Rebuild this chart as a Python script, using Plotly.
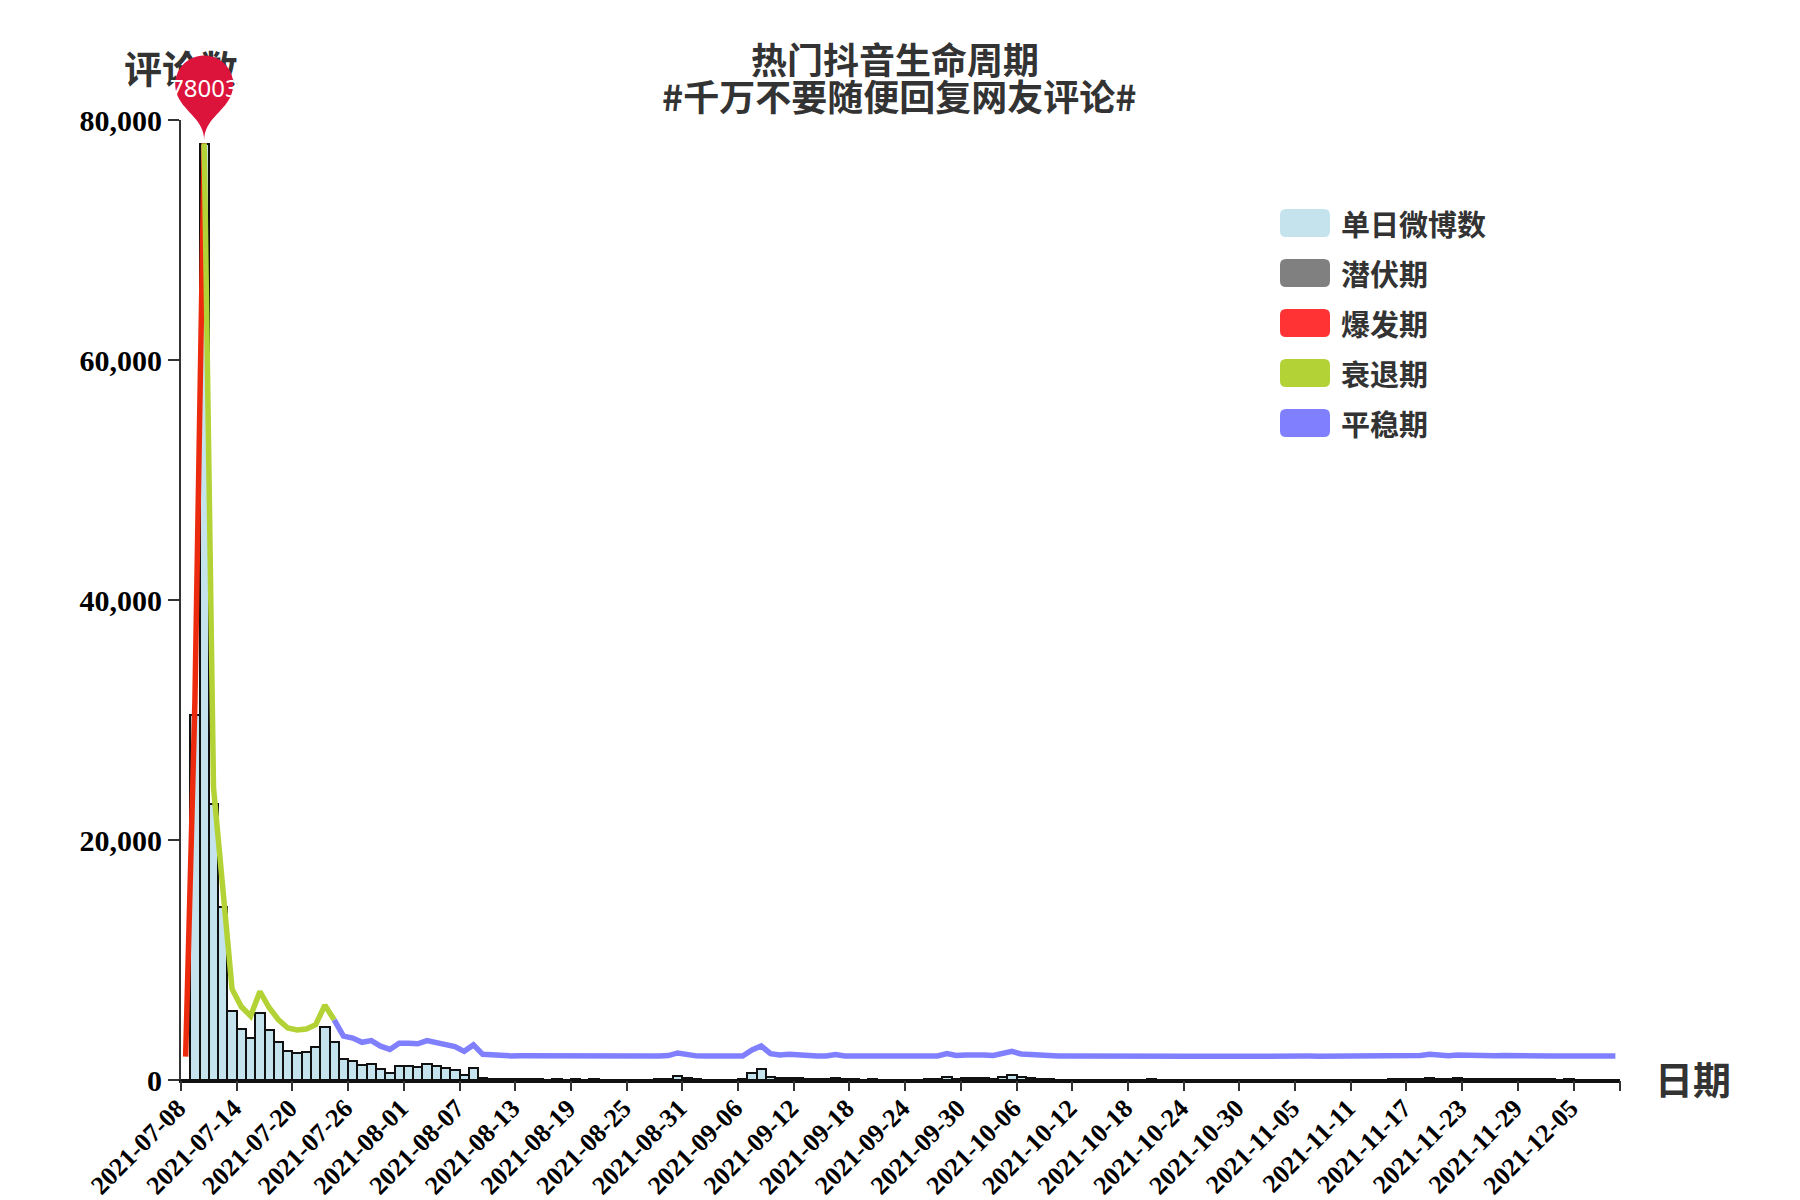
import math
import datetime as dt
import plotly.graph_objects as go

# ---------------- data ----------------
start_date = dt.date(2021, 7, 8)
n_days = 155
dates = [(start_date + dt.timedelta(days=i)).isoformat() for i in range(n_days)]

daily_counts = [
    0, 30400, 78003, 23000, 14400, 5780, 4250, 3470, 5560, 4170,          # 07-08 .. 07-17
    3140, 2440, 2280, 2360, 2720, 4390, 3140, 1750, 1580, 1220,           # 07-18 .. 07-27
    1360, 890, 610, 1140, 1140, 1090, 1360, 1170, 1040, 860,              # 07-28 .. 08-06
    450, 1000, 190, 110, 100, 60, 70, 60, 50, 40,                         # 08-07 .. 08-16
    50, 40, 60, 40, 50, 30, 40, 30, 40, 30,                               # 08-17 .. 08-26
    40, 60, 90, 310, 140, 60, 40, 30, 30, 40,                             # 08-27 .. 09-05
    50, 560, 900, 250, 140, 200, 140, 60, 50, 60,                         # 09-06 .. 09-15
    170, 60, 50, 40, 50, 40, 30, 40, 30, 40,                              # 09-16 .. 09-25
    50, 60, 250, 90, 140, 190, 140, 100, 250, 440,                        # 09-26 .. 10-05
    220, 170, 60, 50, 40, 40, 30, 40, 30, 40,                             # 10-06 .. 10-15
    30, 40, 30, 40, 50, 40, 30, 40, 30, 30,                               # 10-16 .. 10-25
    40, 30, 40, 30, 30, 40, 30, 30, 40, 30,                               # 10-26 .. 11-04
    30, 40, 30, 30, 40, 30, 40, 30, 40, 30,                               # 11-05 .. 11-14
    50, 60, 70, 90, 200, 90, 80, 130, 90, 70,                             # 11-15 .. 11-24
    60, 70, 90, 60, 50, 60, 70, 50, 40, 50,                               # 11-25 .. 12-04
    40, 40, 40, 40, 40,                                                   # 12-05 .. 12-09
]
assert len(daily_counts) == n_days

bar_name = "单日微博数"
phase_names = ["潜伏期", "爆发期", "衰退期", "平稳期"]
phase_start = ["2021-07-08", "2021-07-08", "2021-07-10", "2021-07-24"]
phase_end = ["2021-07-08", "2021-07-10", "2021-07-24", "2021-12-09"]

y_ticks = [0, 20000, 40000, 60000, 80000]
y_range = [0, 80000]
y2_range = [-2000, 80000]
tick_every = 6

title_lines = ["热门抖音生命周期", "#千万不要随便回复网友评论#"]
y_title = "评论数"
x_title = "日期"

# ---------------- style ----------------
bar_fill = "#c4e3ed"
legend_colors = ["#c4e3ed", "#808080", "#ff3333", "#b3d235", "#8080ff"]
line_colors = ["#808080", "#ec2b0e", "#b3d235", "#8080ff"]
cjk = "Noto Sans CJK SC"
serif = "Liberation Serif"
text_col = "#333333"

W, H = 1800, 1200
L, R, T, B = 181, 180, 120, 120
PW, PH = W - L - R, H - T - B


def px(x):
    return (x - L) / PW


def py(y):
    return (H - B - y) / PH


idx = {d: i for i, d in enumerate(dates)}
xc = [i + 0.5 for i in range(n_days)]
x_range = [0, n_days]

fig = go.Figure()
fig.add_trace(go.Bar(
    x=xc, y=daily_counts, width=1.0, name=bar_name,
    marker=dict(color=bar_fill, line=dict(color="#111111", width=2)),
    showlegend=False,
))

for k, name in enumerate(phase_names):
    a, b = idx[phase_start[k]], idx[phase_end[k]]
    fig.add_trace(go.Scatter(
        x=xc[a:b + 1], y=daily_counts[a:b + 1], yaxis="y2", mode="lines", name=name,
        line=dict(color=line_colors[k], width=5.5), showlegend=False,
    ))

# empty traces so the helper axes are drawn
fig.add_trace(go.Scatter(x=[], y=[], xaxis="x2", yaxis="y", showlegend=False, hoverinfo="skip"))
fig.add_trace(go.Scatter(x=[], y=[], xaxis="x3", yaxis="y", showlegend=False, hoverinfo="skip"))

tickvals = list(range(0, n_days, tick_every)) + [n_days]
ticktext = [dates[i] for i in range(0, n_days, tick_every)] + [""]

fig.update_layout(
    width=W, height=H,
    margin=dict(l=L, r=R, t=T, b=B, pad=0, autoexpand=False),
    paper_bgcolor="white", plot_bgcolor="white",
    bargap=0,
    # main x axis: line + date labels (tick marks are drawn by helper axis x3)
    xaxis=dict(
        range=x_range, tickmode="array", tickvals=tickvals, ticktext=ticktext,
        tickangle=-45, ticks="", showline=True, linecolor="#111111", linewidth=2.5,
        showgrid=False, zeroline=False, automargin=False, ticklabelshift=-3,
        tickfont=dict(family=serif, size=26, color="black", weight="bold"),
    ),
    # helper axis: tick marks only
    xaxis3=dict(
        overlaying="x", side="bottom", anchor="y", range=x_range,
        tickmode="array", tickvals=tickvals, showticklabels=False,
        ticks="outside", ticklen=10, tickwidth=2, tickcolor="#333333",
        showline=False, showgrid=False, zeroline=False, automargin=False,
    ),
    # helper axis: its single tick label is the y-axis name "评论数" (sits under the peak pin)
    xaxis2=dict(
        overlaying="x", side="top", anchor="y", range=x_range,
        tickmode="array", tickvals=[x_range[0]], ticktext=[y_title],
        ticks="", showline=False, showgrid=False, zeroline=False, automargin=False,
        ticklabelstandoff=28,
        tickfont=dict(family=cjk, size=38, color=text_col, weight="bold"),
    ),
    yaxis=dict(
        range=y_range, tickmode="array", tickvals=y_ticks,
        ticktext=[f"{v:,}" for v in y_ticks], automargin=False,
        ticks="outside", ticklen=11, tickwidth=2, tickcolor="#333333",
        showline=True, linecolor="#333333", linewidth=2, showgrid=False, zeroline=False,
        tickfont=dict(family=serif, size=30, color="black", weight="bold"),
    ),
    yaxis2=dict(overlaying="y", range=y2_range, visible=False),
)

# ---- peak pin (ECharts-like "pin" symbol), anchored on the peak data point ----
peak_i = max(range(n_days), key=lambda i: daily_counts[i])
peak_v = daily_counts[peak_i]
anchor_xf = (xc[peak_i] - x_range[0]) / (x_range[1] - x_range[0])
anchor_yf = (peak_v - y2_range[0]) / (y2_range[1] - y2_range[0])

r = 29.0
h = 97.3
dy = r * r / (h - r)
cy = -h + r + dy           # canvas coords (y down), tip at 0
ang = math.asin(dy / r)
dx = math.cos(ang) * r
tanX, tanY = math.sin(ang), math.cos(ang)
cp1, cp2 = r * 0.6, r * 0.7
lift = 3.0


def P(x, y):
    return f"{x:.2f},{-y + lift:.2f}"


def arc_pts(a0, a1, nseg=6):
    segs = []
    step = (a1 - a0) / nseg
    k = 4.0 / 3.0 * math.tan(step / 4.0)
    for s in range(nseg):
        t0 = a0 + s * step
        t1 = t0 + step
        x0, y0 = r * math.cos(t0), cy + r * math.sin(t0)
        x3, y3 = r * math.cos(t1), cy + r * math.sin(t1)
        c1 = (x0 - k * r * math.sin(t0), y0 + k * r * math.cos(t0))
        c2 = (x3 + k * r * math.sin(t1), y3 - k * r * math.cos(t1))
        segs.append(f"C {P(*c1)} {P(*c2)} {P(x3, y3)}")
    return " ".join(segs)


pin_path = (
    f"M {P(-dx, cy + dy)} "
    + arc_pts(math.pi - ang, 2 * math.pi + ang, 8)
    + f" C {P(dx - tanX * cp1, cy + dy + tanY * cp1)} {P(0, -cp2)} {P(0, 0)}"
    + f" C {P(0, -cp2)} {P(-dx + tanX * cp1, cy + dy + tanY * cp1)} {P(-dx, cy + dy)} Z"
)
shapes = [dict(
    type="path", xref="x domain", yref="y domain", xsizemode="pixel", ysizemode="pixel",
    xanchor=anchor_xf, yanchor=anchor_yf, path=pin_path,
    fillcolor="#dc143c", line=dict(width=0), layer="above",
)]

annotations = [dict(
    x=anchor_xf, y=anchor_yf, xref="x domain", yref="y domain", text=str(peak_v),
    showarrow=False, yshift=56, xanchor="center", yanchor="middle",
    font=dict(family="Noto Sans", size=24, color="white"),
)]

# ---- titles ----
annotations += [
    dict(x=px(895), y=py(58), xref="paper", yref="paper", text=title_lines[0],
         showarrow=False, xanchor="center", yanchor="middle",
         font=dict(family=cjk, size=36, color=text_col, weight="bold")),
    dict(x=px(899), y=py(95), xref="paper", yref="paper", text=title_lines[1],
         showarrow=False, xanchor="center", yanchor="middle",
         font=dict(family=cjk, size=36, color=text_col, weight="bold")),
    dict(x=px(1653), y=py(1077), xref="paper", yref="paper", text=x_title,
         showarrow=False, xanchor="left", yanchor="middle",
         font=dict(family=cjk, size=38, color=text_col, weight="bold")),
]

# ---- manual legend with rounded rectangles ----
legend_names = [bar_name] + phase_names


def rrect(x0, y0, x1, y1, rad):
    X = lambda v: f"{px(v):.6f}"
    Y = lambda v: f"{py(v):.6f}"
    return (
        f"M {X(x0 + rad)},{Y(y0)} L {X(x1 - rad)},{Y(y0)} Q {X(x1)},{Y(y0)} {X(x1)},{Y(y0 + rad)} "
        f"L {X(x1)},{Y(y1 - rad)} Q {X(x1)},{Y(y1)} {X(x1 - rad)},{Y(y1)} "
        f"L {X(x0 + rad)},{Y(y1)} Q {X(x0)},{Y(y1)} {X(x0)},{Y(y1 - rad)} "
        f"L {X(x0)},{Y(y0 + rad)} Q {X(x0)},{Y(y0)} {X(x0 + rad)},{Y(y0)} Z"
    )


for k, (nm, col) in enumerate(zip(legend_names, legend_colors)):
    cyk = 223 + 50 * k
    shapes.append(dict(type="path", xref="paper", yref="paper",
                       path=rrect(1280, cyk - 14, 1330, cyk + 14, 6),
                       fillcolor=col, line=dict(width=0), layer="above"))
    annotations.append(dict(x=px(1339), y=py(cyk), xref="paper", yref="paper", text=nm,
                            showarrow=False, xanchor="left", yanchor="middle",
                            font=dict(family=cjk, size=29, color=text_col, weight="bold")))

fig.update_layout(shapes=shapes, annotations=annotations)
fig.write_html("out.html")
